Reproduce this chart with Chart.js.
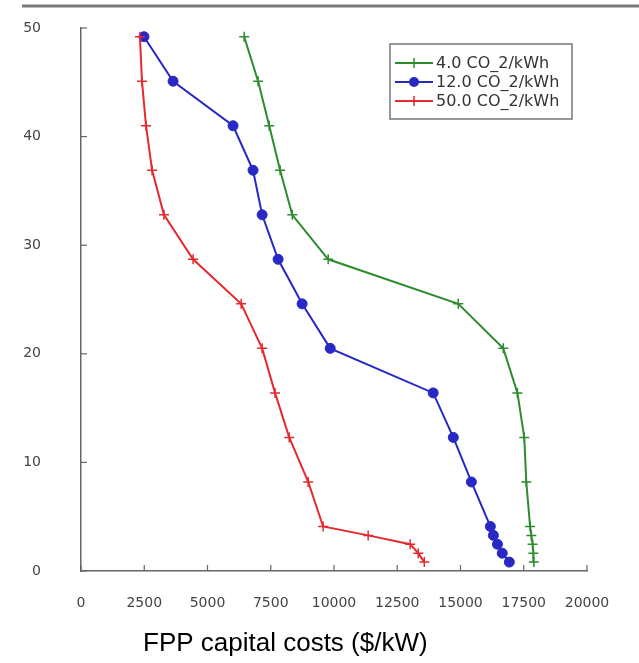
<!DOCTYPE html>
<html>
<head>
<meta charset="utf-8">
<script src="https://cdn.jsdelivr.net/npm/chart.js@4.4.0/dist/chart.umd.min.js"></script>
<style>
  html, body { margin: 0; padding: 0; background: #fff; }
</style>
</head>
<body>
<canvas id="chart" width="639" height="663"></canvas>
<script>
// y levels shared by all three curves
const levels = [0.82, 1.64, 2.46, 3.28, 4.1, 8.2, 12.3, 16.4, 20.5, 24.6, 28.7, 32.8, 36.9, 41.0, 45.1, 49.2];
// FPP capital cost ($/kW), same order as levels
const greenCost = [17900, 17880, 17850, 17800, 17750, 17600, 17520, 17250, 16690, 14910, 9770, 8350, 7870, 7440, 7000, 6450];
const blueCost = [16930, 16650, 16460, 16300, 16180, 15430, 14715, 13920, 9850, 8740, 7790, 7160, 6800, 6010, 3640, 2490];
const redCost = [13570, 13330, 13010, 11350, 9570, 8980, 8230, 7670, 7160, 6330, 4430, 3280, 2810, 2570, 2410, 2330];
const seriesLabels = ["4.0 CO_2/kWh", "12.0 CO_2/kWh", "50.0 CO_2/kWh"];
const xTitle = "FPP capital costs ($/kW)";

const green = "#2e8b2e";
const blue = "#2828c4";
const red = "#e42a2e";

function pts(costs) {
  return costs.map((c, i) => ({ x: c, y: levels[i] }));
}

const tickFont = { family: "DejaVu Sans", size: 14 };

// inward tick marks, top rule, axis title, legend box
const decorations = {
  id: "decorations",
  afterDraw(chart) {
    const ctx = chart.ctx;
    const xs = chart.scales.x, ys = chart.scales.y;
    const area = chart.chartArea;
    ctx.save();
    // top gray rule
    ctx.strokeStyle = "#7a7a7a";
    ctx.lineWidth = 3;
    ctx.beginPath();
    ctx.moveTo(22, 6);
    ctx.lineTo(639, 6);
    ctx.stroke();

    // ticks pointing into the plot
    ctx.strokeStyle = "#666";
    ctx.lineWidth = 1.2;
    xs.ticks.forEach(t => {
      const px = xs.getPixelForValue(t.value);
      ctx.beginPath();
      ctx.moveTo(px, area.bottom);
      ctx.lineTo(px, area.bottom - 6);
      ctx.stroke();
    });
    ys.ticks.forEach(t => {
      const py = ys.getPixelForValue(t.value);
      ctx.beginPath();
      ctx.moveTo(area.left, py);
      ctx.lineTo(area.left + 6, py);
      ctx.stroke();
    });

    // axis title
    ctx.fillStyle = "#000";
    ctx.font = "26px 'Liberation Sans', Arial, sans-serif";
    ctx.textAlign = "left";
    ctx.textBaseline = "alphabetic";
    ctx.fillText(xTitle, 143, 651);

    // legend
    const bx = 390, by = 44, bw = 182, bh = 75;
    ctx.fillStyle = "#fff";
    ctx.fillRect(bx, by, bw, bh);
    ctx.strokeStyle = "#777";
    ctx.lineWidth = 1.5;
    ctx.strokeRect(bx, by, bw, bh);
    ctx.font = "16px 'DejaVu Sans', sans-serif";
    ctx.textBaseline = "middle";
    chart.data.datasets.forEach((ds, i) => {
      const y = 63 + i * 19;
      ctx.strokeStyle = ds.borderColor;
      ctx.lineWidth = 2;
      ctx.beginPath();
      ctx.moveTo(395, y);
      ctx.lineTo(433, y);
      ctx.stroke();
      if (ds.pointStyle === "circle") {
        ctx.fillStyle = ds.borderColor;
        ctx.beginPath();
        ctx.arc(414, y, 5, 0, Math.PI * 2);
        ctx.fill();
      } else {
        ctx.lineWidth = 1.5;
        ctx.beginPath();
        ctx.moveTo(414, y - 5); ctx.lineTo(414, y + 5);
        ctx.moveTo(409, y); ctx.lineTo(419, y);
        ctx.stroke();
      }
      ctx.fillStyle = "#333";
      ctx.fillText(ds.label, 436, y + 1);
    });
    ctx.restore();
  }
};

new Chart(document.getElementById("chart"), {
  type: "line",
  data: {
    datasets: [
      {
        label: seriesLabels[0], data: pts(greenCost), borderColor: green, backgroundColor: green,
        borderWidth: 2, pointStyle: "cross", pointRadius: 5, pointBorderWidth: 1.5, order: 3
      },
      {
        label: seriesLabels[1], data: pts(blueCost), borderColor: blue, backgroundColor: blue,
        borderWidth: 2, pointStyle: "circle", pointRadius: 5, pointBorderWidth: 1, order: 2
      },
      {
        label: seriesLabels[2], data: pts(redCost), borderColor: red, backgroundColor: red,
        borderWidth: 2, pointStyle: "cross", pointRadius: 5, pointBorderWidth: 1.5, order: 1
      }
    ]
  },
  options: {
    responsive: false,
    animation: false,
    layout: { padding: { top: 28, right: 52, left: 0, bottom: 0 }, autoPadding: false },
    plugins: { legend: { display: false }, tooltip: { enabled: false } },
    elements: { line: { tension: 0 } },
    scales: {
      x: {
        type: "linear",
        min: 0,
        max: 20000,
        grid: { drawOnChartArea: false, drawTicks: false },
        border: { display: true, color: "#666", width: 1.5 },
        ticks: {
          stepSize: 2500, padding: 24, font: tickFont, color: "#444", maxRotation: 0, autoSkip: false,
          callback: v => String(v)
        },
        afterFit(s) { s.height = 92; s.paddingLeft = 0; s.paddingRight = 0; }
      },
      y: {
        type: "linear",
        min: 0,
        max: 50,
        grid: { drawOnChartArea: false, drawTicks: false },
        border: { display: true, color: "#666", width: 1.5 },
        ticks: { stepSize: 10, padding: 40, font: tickFont, color: "#444", callback: v => String(v) },
        afterFit(s) { s.width = 81; s.paddingTop = 0; s.paddingBottom = 0; }
      }
    }
  },
  plugins: [decorations]
});
</script>
</body>
</html>
